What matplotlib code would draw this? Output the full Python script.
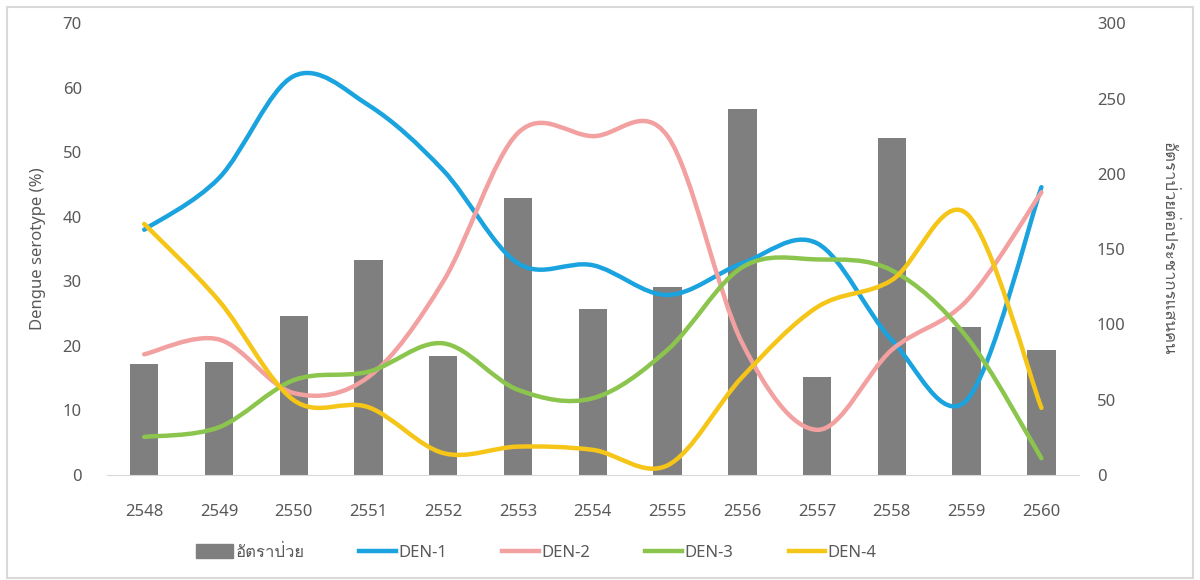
import matplotlib
matplotlib.use("Agg")
import matplotlib.pyplot as plt
import numpy as np
from matplotlib import font_manager
from matplotlib.ft2font import FT2Font
from matplotlib.path import Path
from matplotlib.patches import PathPatch, Rectangle
from matplotlib.lines import Line2D


years = ["2548", "2549", "2550", "2551", "2552", "2553", "2554",
         "2555", "2556", "2557", "2558", "2559", "2560"]

incidence = [74, 75, 105.5, 143, 79, 184, 110, 125, 243, 65, 224, 98, 83]

den1 = [38.0, 46.0, 61.8, 57.3, 47.2, 32.8, 32.5, 27.9, 32.8, 35.9, 20.9, 11.6, 44.6]
den2 = [18.7, 21.0, 12.7, 15.2, 30.0, 53.0, 52.5, 52.5, 20.4, 7.0, 19.4, 27.0, 43.8]
den3 = [5.9, 7.4, 14.7, 16.0, 20.4, 13.2, 11.9, 19.4, 32.2, 33.4, 31.7, 21.4, 2.6]
den4 = [38.9, 27.0, 11.6, 10.5, 3.4, 4.4, 3.9, 1.5, 15.2, 26.0, 30.2, 40.5, 10.4]

series_names = ["DEN-1", "DEN-2", "DEN-3", "DEN-4"]
series_colors = ["#1aa3de", "#f2a0a0", "#8cc54e", "#f5c518"]

bar_label = "อัตราป่วย"
left_label = "Dengue serotype (%)"
right_label = "อัตราป่วยต่อประชากรแสนคน"


def findThaiFont():
    for f in font_manager.fontManager.ttflist:
        try:
            if 0x0E2D in FT2Font(f.fname).get_charmap():
                return f.name
        except Exception:
            pass
    return None


def smoothPath(x, y):
    # catmull-rom style bezier, like excel's smoothed line
    pts = np.column_stack([x, y]).astype(float)
    n = len(pts)
    verts = [pts[0]]
    codes = [Path.MOVETO]
    for i in range(n - 1):
        p0 = pts[max(i - 1, 0)]
        p1 = pts[i]
        p2 = pts[i + 1]
        p3 = pts[min(i + 2, n - 1)]
        verts += [p1 + (p2 - p0) / 6, p2 - (p3 - p1) / 6, p2]
        codes += [Path.CURVE4] * 3
    return Path(verts, codes)


thai = findThaiFont()
thai_family = [thai, "DejaVu Sans"] if thai else ["DejaVu Sans"]

plt.rcParams["font.family"] = ["Noto Sans", "DejaVu Sans"]
text_color = "#595959"

fig = plt.figure(figsize=(12, 5.8), dpi=100)
fig.patches.append(Rectangle((0.006, 0.004), 0.988, 0.984, transform=fig.transFigure,
                             fill=False, edgecolor="#d9d9d9", linewidth=1.5))

ax = fig.add_axes([0.089, 0.181, 0.810, 0.779])
ax2 = ax.twinx()

x = np.arange(len(years))

ax2.bar(x, incidence, width=0.38, color="#7f7f7f", zorder=1)
ax2.set_ylim(0, 300)
ax2.set_yticks(range(0, 301, 50))

ax.set_zorder(ax2.get_zorder() + 1)
ax.patch.set_visible(False)

for vals, col in zip([den1, den2, den3, den4], series_colors):
    ax.add_patch(PathPatch(smoothPath(x, vals), facecolor="none", edgecolor=col,
                           linewidth=3.2, capstyle="round", joinstyle="round"))

ax.set_xlim(-0.5, len(years) - 0.5)
ax.set_ylim(0, 70)
ax.set_yticks(range(0, 71, 10))
ax.set_xticks(x)
ax.set_xticklabels(years)

for a in (ax, ax2):
    for s in a.spines.values():
        s.set_visible(False)
    a.tick_params(length=0, labelsize=12, labelcolor=text_color)
ax.spines["bottom"].set_visible(True)
ax.spines["bottom"].set_color("#d9d9d9")
ax.tick_params(axis="x", pad=21)
ax.tick_params(axis="y", pad=18)
ax2.tick_params(axis="y", pad=13)

ax.set_ylabel(left_label, fontsize=12, color=text_color, labelpad=12)
ax2.set_ylabel(right_label, fontsize=12, color=text_color, rotation=-90,
               labelpad=36, family=thai_family)

handles = [Rectangle((0, 0), 1, 1, color="#7f7f7f")]
handles += [Line2D([], [], color=c, linewidth=3.2) for c in series_colors]
leg = fig.legend(handles, [bar_label] + series_names, loc="center",
                 bbox_to_anchor=(0.447, 0.047), ncol=5, frameon=False,
                 fontsize=12, handlelength=2.2, handleheight=0.9,
                 handletextpad=0.15, columnspacing=3.3)
for t in leg.get_texts():
    t.set_color(text_color)
leg.get_texts()[0].set_family(thai_family)

fig.savefig("out.png", dpi=100)
